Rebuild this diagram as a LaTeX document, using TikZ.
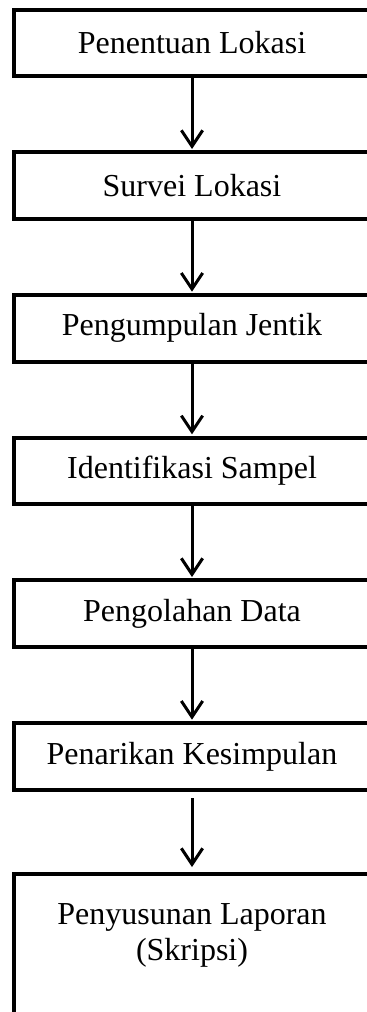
\documentclass[tikz,border=0pt]{standalone}
\usepackage{fontspec}
\setmainfont{Liberation Serif}
\usetikzlibrary{arrows.meta}
\tikzstyle{langkah} = [rectangle, draw, line width=3pt, minimum width=267pt, minimum height=50pt, align=center, font=\fontsize{24}{27}\selectfont]
\tikzstyle{akhir} = [langkah, minimum height=120pt, text depth=33pt]

\begin{document}
\begin{tikzpicture}[->,>={Straight Barb[length=12pt,width=16pt]},shorten >=1pt,line width=2.25pt,node distance=107pt,x=0.75pt,y=-0.75pt]
  \useasboundingbox (0,0) rectangle (367,1012);
  \clip (0,0) rectangle (367,1012);
  \node[langkah] (lokasi) at (192,43) {Penentuan Lokasi};
  \node[langkah] (survei) [below of=lokasi] {Survei Lokasi};
  \node[langkah] (jentik) [below of=survei] {Pengumpulan Jentik};
  \node[langkah] (sampel) [below of=jentik] {Identifikasi Sampel};
  \node[langkah] (olah) [below of=sampel] {Pengolahan Data};
  \node[langkah] (simpulan) [below of=olah] {Penarikan Kesimpulan};
  \node[akhir] (laporan) [below of=simpulan, node distance=148.5pt] {Penyusunan Laporan\\(Skripsi)};

  \path (lokasi) edge node {} (survei);
  \path (survei) edge node {} (jentik);
  \path (jentik) edge node {} (sampel);
  \path (sampel) edge node {} (olah);
  \path (olah) edge node {} (simpulan);
  \path (simpulan) edge[shorten <=5pt, shorten >=4pt] node {} (laporan);
\end{tikzpicture}
\end{document}
